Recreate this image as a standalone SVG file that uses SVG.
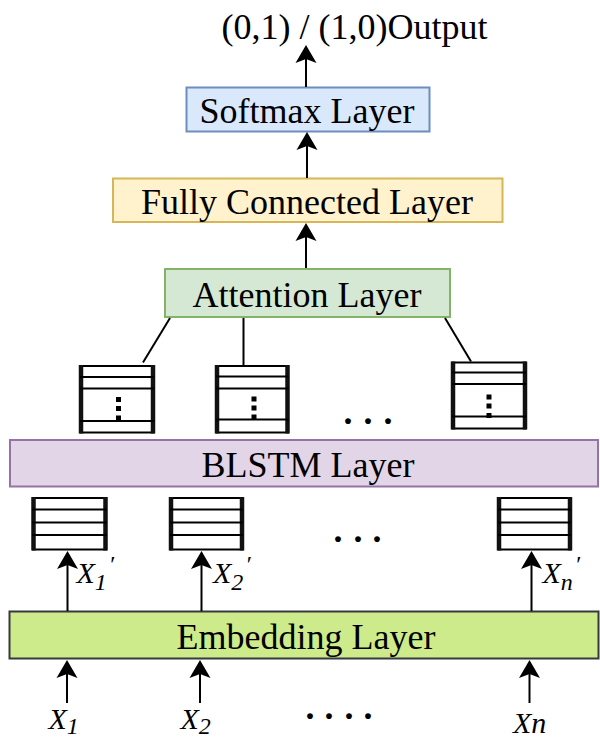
<svg xmlns="http://www.w3.org/2000/svg" width="600" height="742" viewBox="0 0 600 742">
<defs>
<style>
.lbl{font-family:"Liberation Serif","Times New Roman",serif;font-size:36px;fill:#000;text-anchor:middle}
.ttl{font-family:"Liberation Serif","Times New Roman",serif;font-size:36px;fill:#000}
.var{font-family:"Liberation Serif","Times New Roman",serif;font-style:italic;font-size:30px;fill:#000}
.dots{font-family:"Liberation Serif","Times New Roman",serif;font-weight:bold;font-size:36px;fill:#000}
.box{stroke-width:2}
.vec{fill:#fff;stroke:#000;stroke-width:2}
.side{stroke:#111;stroke-width:4.5}
.row{stroke:#000;stroke-width:2}
.conn{stroke:#000;stroke-width:2;fill:none}
.arr{stroke:#000;stroke-width:2;fill:none;marker-end:url(#ah)}
</style>
<marker id="ah" markerUnits="userSpaceOnUse" markerWidth="30" markerHeight="30" refX="0" refY="0" orient="auto" overflow="visible">
<path d="M14,0 L-4,-10.5 L0,0 L-4,10.5 Z" fill="#000"/>
</marker>
</defs>
<rect width="600" height="742" fill="#fff"/>

<g id="output">
<text class="ttl" x="221.5" y="39">(0,1) / (1,0)Output</text>
</g>

<g id="softmax">
<rect class="box" x="186.5" y="87.5" width="243" height="44" fill="#dae8fc" stroke="#6c8ebf"/>
<text class="lbl" x="307" y="123">Softmax Layer</text>
</g>

<g id="fully-connected">
<rect class="box" x="113" y="178.5" width="389.5" height="43.5" fill="#fff2cc" stroke="#d6b656"/>
<text class="lbl" x="307" y="214">Fully Connected Layer</text>
</g>

<g id="attention">
<rect class="box" x="165" y="269" width="285" height="48" fill="#d5e8d4" stroke="#82b366"/>
<text class="lbl" x="307" y="306.5">Attention Layer</text>
</g>

<g id="h1">
<rect class="vec" x="80.5" y="366" width="73" height="66.5"/>
<line class="side" x1="81" y1="365" x2="81" y2="433.5"/>
<line class="side" x1="153" y1="365" x2="153" y2="433.5"/>
<line class="row" x1="80" y1="377" x2="154" y2="377"/>
<line class="row" x1="80" y1="388.5" x2="154" y2="388.5"/>
<line class="row" x1="80" y1="421" x2="154" y2="421"/>
<rect x="116" y="397" width="5" height="5"/><rect x="116" y="406" width="5" height="5"/><rect x="116" y="415.5" width="5" height="5"/>
</g>

<g id="h2">
<rect class="vec" x="216.5" y="366" width="71.5" height="66.5"/>
<line class="side" x1="217" y1="365" x2="217" y2="433.5"/>
<line class="side" x1="287.5" y1="365" x2="287.5" y2="433.5"/>
<line class="row" x1="216" y1="376.5" x2="288.5" y2="376.5"/>
<line class="row" x1="216" y1="388.5" x2="288.5" y2="388.5"/>
<line class="row" x1="216" y1="419.5" x2="288.5" y2="419.5"/>
<rect x="251.5" y="396.5" width="5" height="5"/><rect x="251.5" y="405.5" width="5" height="5"/><rect x="251.5" y="414.5" width="5" height="5"/>
</g>

<g id="hn">
<rect class="vec" x="452.5" y="362.5" width="73" height="66"/>
<line class="side" x1="453" y1="361.5" x2="453" y2="429.5"/>
<line class="side" x1="525" y1="361.5" x2="525" y2="429.5"/>
<line class="row" x1="452" y1="372.5" x2="526" y2="372.5"/>
<line class="row" x1="452" y1="384" x2="526" y2="384"/>
<line class="row" x1="452" y1="416.5" x2="526" y2="416.5"/>
<rect x="486.5" y="394.5" width="5" height="5"/><rect x="486.5" y="403.5" width="5" height="5"/><rect x="486.5" y="413" width="5" height="5"/>
</g>

<g id="dots-top">
<text class="dots" x="343.5 363.5 383.5" y="424">...</text>
</g>

<g id="blstm">
<rect class="box" x="10" y="440" width="588" height="46.5" fill="#e1d5e7" stroke="#9673a6"/>
<text class="lbl" x="308" y="476.5">BLSTM Layer</text>
</g>

<g id="e1">
<rect class="vec" x="33" y="498" width="73" height="51.5"/>
<line class="side" x1="33.5" y1="497" x2="33.5" y2="550.5"/>
<line class="side" x1="105.5" y1="497" x2="105.5" y2="550.5"/>
<line class="row" x1="32" y1="509.5" x2="107" y2="509.5"/>
<line class="row" x1="32" y1="522.5" x2="107" y2="522.5"/>
<line class="row" x1="32" y1="535" x2="107" y2="535"/>
</g>

<g id="e2">
<rect class="vec" x="170.5" y="498" width="72" height="51.5"/>
<line class="side" x1="171" y1="497" x2="171" y2="550.5"/>
<line class="side" x1="242" y1="497" x2="242" y2="550.5"/>
<line class="row" x1="170" y1="509.5" x2="243" y2="509.5"/>
<line class="row" x1="170" y1="522.5" x2="243" y2="522.5"/>
<line class="row" x1="170" y1="535" x2="243" y2="535"/>
</g>

<g id="en">
<rect class="vec" x="498.5" y="498" width="72" height="51.5"/>
<line class="side" x1="499" y1="497" x2="499" y2="550.5"/>
<line class="side" x1="570" y1="497" x2="570" y2="550.5"/>
<line class="row" x1="498" y1="509.5" x2="571" y2="509.5"/>
<line class="row" x1="498" y1="522.5" x2="571" y2="522.5"/>
<line class="row" x1="498" y1="535" x2="571" y2="535"/>
</g>

<g id="dots-mid">
<text class="dots" x="333.5 353.5 372.5" y="542">...</text>
</g>

<g id="embedding">
<rect class="box" x="9.5" y="611.5" width="589" height="47" fill="#cdeb8b" stroke="#36393d"/>
<text class="lbl" x="306" y="649">Embedding Layer</text>
</g>

<g id="labels">
<text class="var" x="76.5" y="583">X<tspan font-size="24" dy="7">1</tspan><tspan font-size="24" dx="2" dy="-18">′</tspan></text>
<text class="var" x="213" y="583">X<tspan font-size="24" dy="7">2</tspan><tspan font-size="24" dx="2" dy="-18">′</tspan></text>
<text class="var" x="542.5" y="583">X<tspan font-size="24" dy="7">n</tspan><tspan font-size="24" dx="2" dy="-18">′</tspan></text>
<text class="var" x="48.5" y="729">X<tspan font-size="24" dy="5">1</tspan></text>
<text class="var" x="180.5" y="729">X<tspan font-size="24" dy="5">2</tspan></text>
<text class="var" x="513" y="733">Xn</text>
</g>

<g id="dots-bottom">
<text class="dots" x="305.5 324.5 344.5 363.5" y="719">....</text>
</g>

<g id="connectors">
<line class="arr" x1="306" y1="87" x2="306" y2="59"/>
<line class="arr" x1="307" y1="178" x2="307" y2="146"/>
<line class="arr" x1="306" y1="268" x2="306" y2="237"/>
<line class="conn" x1="170" y1="318" x2="143" y2="362.5"/>
<line class="conn" x1="243.5" y1="318" x2="243.5" y2="365"/>
<line class="conn" x1="445" y1="318" x2="471" y2="361.5"/>
<line class="arr" x1="67.5" y1="611" x2="67.5" y2="565"/>
<line class="arr" x1="201.5" y1="611" x2="201.5" y2="565"/>
<line class="arr" x1="531.5" y1="611" x2="531.5" y2="565"/>
<line class="arr" x1="67" y1="703" x2="67" y2="674"/>
<line class="arr" x1="200" y1="703" x2="200" y2="674"/>
<line class="arr" x1="529.5" y1="703" x2="529.5" y2="674"/>
</g>
</svg>
